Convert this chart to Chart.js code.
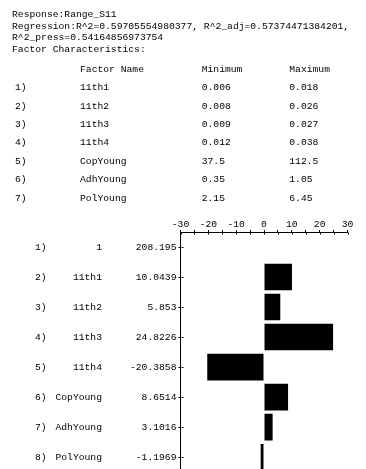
<!DOCTYPE html>
<html><head><meta charset="utf-8">
<script src="https://cdn.jsdelivr.net/npm/chart.js@4/dist/chart.umd.min.js"></script>
<style>
html,body{margin:0;padding:0;width:366px;height:469px;overflow:hidden;background:#fff;}
#wrap{position:absolute;left:0;top:0;width:366px;height:480px;}
.t{position:absolute;font-family:"Liberation Mono",monospace;font-size:9.7px;line-height:12px;height:12px;white-space:pre;color:#000;}
</style></head><body>
<div id="wrap"><canvas id="c" width="366" height="480"></canvas></div>
<div id="txt"></div>
<script>
// ---- data ----
const headerLines = [
  "Response:Range_S11",
  "Regression:R^2=0.59705554980377, R^2_adj=0.57374471384201,",
  "R^2_press=0.54164856973754",
  "Factor Characteristics:"
];
const tableHeader = ["Factor Name", "Minimum", "Maximum"];
const factorNames = ["11th1","11th2","11th3","11th4","CopYoung","AdhYoung","PolYoung"];
const factorMin = ["0.006","0.008","0.009","0.012","37.5","0.35","2.15"];
const factorMax = ["0.018","0.026","0.027","0.038","112.5","1.05","6.45"];
const termNames = ["1","11th1","11th2","11th3","11th4","CopYoung","AdhYoung","PolYoung"];
const coefficients = [208.195, 10.0439, 5.853, 24.8226, -20.3858, 8.6514, 3.1016, -1.1969];
const xMin = -30, xMax = 30, xStep = 5, xLabelEvery = 10;

// ---- text block ----
const txt = document.getElementById('txt');
function addText(s, x, yc){
  const d = document.createElement('div');
  d.className = 't'; d.textContent = s;
  d.style.left = x + 'px'; d.style.top = (yc - 6) + 'px';
  txt.appendChild(d);
}
const headerY = [14.5, 26.5, 38, 49.5];
headerLines.forEach((s,i)=>addText(s, 12, headerY[i]));
const colX = [80, 201.7, 289.3];
tableHeader.forEach((s,i)=>addText(s, colX[i], 70));
factorNames.forEach((n,i)=>{
  const y = 88.4 + 18.35*i;
  addText((i+1)+')', 15, y);
  addText(n, colX[0], y);
  addText(factorMin[i], colX[1], y);
  addText(factorMax[i], colX[2], y);
});

// ---- chart ----
const FONT = {family:'"Liberation Mono", monospace', size:9.7};
const barValues = coefficients.map((v,i)=> i===0 ? null : v);
const coefLabels = coefficients.map(v=>String(v));

const extras = {
  id:'extras',
  afterDraw(chart){
    const ctx = chart.ctx, ys = chart.scales.y, xs = chart.scales.x;
    ctx.save();
    // other half of the crossing tick marks
    ctx.strokeStyle = '#000'; ctx.lineWidth = 1;
    ctx.beginPath();
    const ay = Math.round(chart.chartArea.top) + 0.5;
    xs.ticks.forEach(t=>{
      const x = Math.round(xs.getPixelForValue(t.value)) + 0.5;
      ctx.moveTo(x, ay); ctx.lineTo(x, ay + 2);
    });
    const ax = Math.round(chart.chartArea.left) + 0.5;
    termNames.forEach((n,i)=>{
      const y = Math.round(ys.getPixelForValue(i)) + 0.5;
      ctx.moveTo(ax, y); ctx.lineTo(ax + 2, y);
    });
    ctx.stroke();
    // row number and term name columns
    ctx.font = '9.7px "Liberation Mono", monospace';
    ctx.fillStyle = '#000';
    ctx.textBaseline = 'middle';
    termNames.forEach((n,i)=>{
      const y = ys.getPixelForValue(i);
      ctx.textAlign = 'left'; ctx.fillText((i+1)+')', 35, y);
      ctx.textAlign = 'right'; ctx.fillText(n, 102, y);
    });
    ctx.restore();
  }
};

new Chart(document.getElementById('c'), {
  type:'bar',
  data:{labels: termNames, datasets:[{data: barValues, backgroundColor:'#000', borderWidth:0, barPercentage:0.885, categoryPercentage:1}]},
  options:{
    indexAxis:'y', responsive:false, animation:false,
    layout:{padding:{left:0, right:18.5, top:0, bottom:6.9}},
    plugins:{legend:{display:false}, tooltip:{enabled:false}},
    scales:{
      x:{
        position:'top', min:xMin, max:xMax,
        ticks:{stepSize:xStep, autoSkip:false, maxRotation:0, font:FONT, color:'#000', padding:0,
               callback:v=> (v % xLabelEvery === 0) ? String(v) : ''},
        grid:{drawOnChartArea:false, tickLength:2, color:'#000', lineWidth:1},
        border:{color:'#000', width:1},
        afterFit:s=>{ s.height = 232; }
      },
      y:{
        ticks:{autoSkip:false, font:FONT, color:'#000', padding:2, callback:(v,i)=>coefLabels[i]},
        grid:{offset:false, drawOnChartArea:false, tickLength:2, color:'#000', lineWidth:1},
        border:{color:'#000', width:1},
        afterFit:s=>{ s.width = 180.5; }
      }
    }
  },
  plugins:[extras]
});
</script>
</body></html>
